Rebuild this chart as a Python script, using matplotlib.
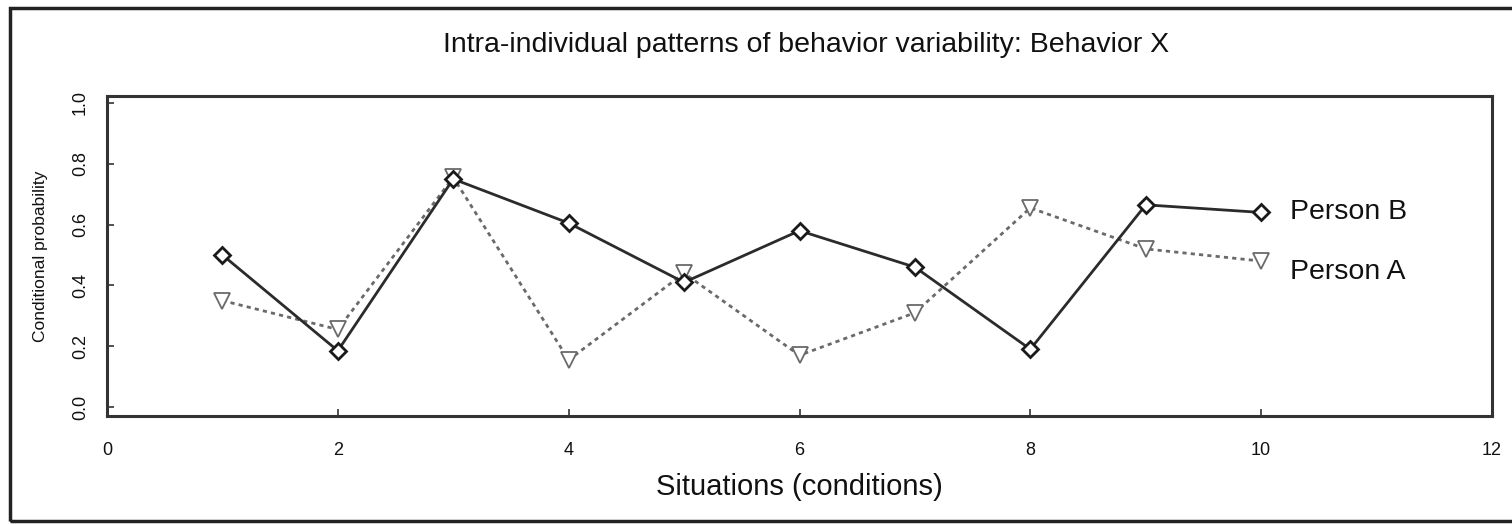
import matplotlib
matplotlib.use("Agg")
import matplotlib.pyplot as plt
from matplotlib.patches import Rectangle

situations = [1, 2, 3, 4, 5, 6, 7, 8, 9, 10]
person_b = [0.50, 0.185, 0.75, 0.605, 0.41, 0.58, 0.46, 0.19, 0.665, 0.64]
person_a = [0.35, 0.255, 0.755, 0.155, 0.44, 0.17, 0.31, 0.655, 0.52, 0.48]
x_ticks = [0, 2, 4, 6, 8, 10, 12]
y_ticks = [0.0, 0.2, 0.4, 0.6, 0.8, 1.0]
y_tick_labels = ["0.0", "0.2", "0.4", "0.6", "0.8", "1.0"]

plt.rcParams['font.family'] = ['Liberation Sans', 'DejaVu Sans']

fig = plt.figure(figsize=(15.12, 5.24), dpi=100)
fig.patch.set_facecolor('white')
ax = fig.add_axes([107/1512, 1-416/524, (1492-107)/1512, (416-96)/524])

ax.plot(situations, person_a, linestyle=(0, (1.5, 1.5)), color='#6a6a6a', linewidth=2.0,
        marker='v', markersize=11, markerfacecolor='white', markeredgecolor='#6a6a6a',
        markeredgewidth=1.3, zorder=2)
ax.plot(situations, person_b, linestyle='-', color='#2b2b2b', linewidth=2.0,
        marker='D', markersize=8, markerfacecolor='white', markeredgecolor='#1a1a1a',
        markeredgewidth=2.0, zorder=3)

ax.text(10.25, person_b[-1], "Person B", fontsize=20.5, va='center', ha='left', color='#111111')
ax.text(10.25, 0.445, "Person A", fontsize=20.5, va='center', ha='left', color='#111111')

ax.set_xlim(0, 12)
ax.set_ylim(-0.0296, 1.023)
ax.set_xticks(x_ticks)
ax.set_xticklabels([str(t) for t in x_ticks])
ax.set_yticks(y_ticks)
ax.set_yticklabels(y_tick_labels, rotation=90, va='center')
ax.tick_params(axis='x', direction='in', length=5, width=1.2, labelsize=13, pad=19,
               colors='#333333', labelcolor='#111111')
ax.tick_params(axis='y', direction='in', length=5, width=1.2, labelsize=13, pad=13,
               colors='#333333', labelcolor='#111111')

for s in ax.spines.values():
    s.set_linewidth(2.2)
    s.set_color('#333333')

ax.set_xlabel("Situations (conditions)", fontsize=21, color='#111111')
ax.xaxis.set_label_coords(0.5, (416-487)/320)
ax.xaxis.label.set_va('center')
ax.set_ylabel("Conditional probability", fontsize=12.5, color='#111111')
ax.yaxis.set_label_coords((41-107)/1385, 0.5)
ax.yaxis.label.set_va('center')

fig.text(806/1512, 1-45/524, "Intra-individual patterns of behavior variability: Behavior X",
         fontsize=20.5, ha='center', va='center', color='#111111')

frame = Rectangle((10/1512, 1-521/524), 1.2, (521-8)/524, transform=fig.transFigure,
                  fill=False, edgecolor='#222222', linewidth=2.5, clip_on=False)
fig.patches.append(frame)

fig.savefig("out.png", dpi=100)
